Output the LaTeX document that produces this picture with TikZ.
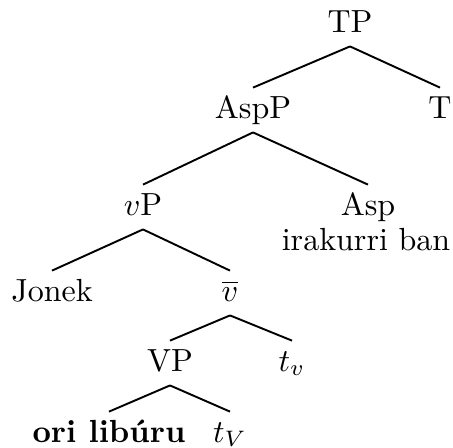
\documentclass[tikz,border=0pt]{standalone}
\usepackage{fontspec}
\usepackage{amsmath}

\begin{document}
\begin{tikzpicture}[x=0.3125pt, y=-0.3125pt, semithick,
  cat/.style={anchor=base, inner sep=3pt, text height=6.2pt, text depth=1.2pt}]
  \useasboundingbox (0,0) rectangle (453,447);

  \node[cat] (TP)   at (350, 32)  {TP};
  \node[cat] (AspP) at (253, 118) {AspP};
  \node[cat] (T)    at (440, 118) {T};
  \node[cat] (vP)   at (143, 215) {$v$P};
  \node[cat] (Asp)  at (368, 215) {Asp};
  \node[cat] (verb) at (366, 250) {irakurri ban};
  \node[cat] (Jonek) at (52, 301) {Jonek};
  \node[cat] (vbar) at (230, 301) {$\overline{v}$};
  \node[cat] (VP)   at (170, 371) {VP};
  \node[cat] (tv)   at (292, 371) {$t_v$};
  \node[cat] (obj)  at (109, 442) {\textbf{ori libúru}};
  \node[cat] (tV)   at (230, 442) {$t_V$};

  \draw (TP.south) -- (AspP.north);
  \draw (TP.south) -- (T.north);
  \draw (AspP.south) -- (vP.north);
  \draw (AspP.south) -- (Asp.north);
  \draw (vP.south) -- (Jonek.north);
  \draw (vP.south) -- (vbar.north);
  \draw (vbar.south) -- (VP.north);
  \draw (vbar.south) -- (tv.north);
  \draw (VP.south) -- (obj.north);
  \draw (VP.south) -- (tV.north);
\end{tikzpicture}
\end{document}
